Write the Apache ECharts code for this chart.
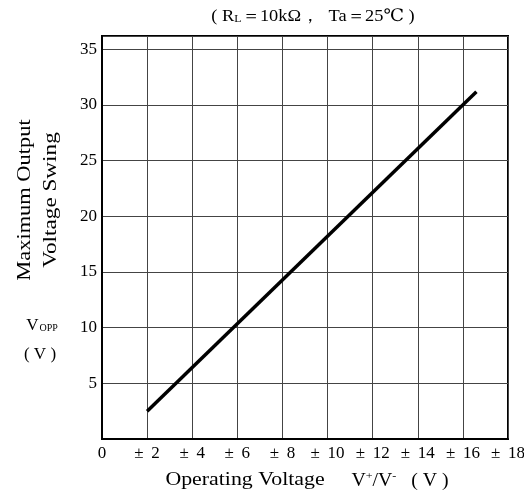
<!DOCTYPE html>
<html>
<head>
<meta charset="utf-8">
<script src="https://cdn.jsdelivr.net/npm/echarts@6/dist/echarts.min.js"></script>
<style>html,body{margin:0;padding:0;background:#fff;}#c{width:524px;height:493px;}</style>
</head>
<body>
<div id="c"></div>
<script>
const xTicks = [0, 2, 4, 6, 8, 10, 12, 14, 16, 18];
const yTicks = [5, 10, 15, 20, 25, 30, 35];
const supplyV = [2, 16.6];
const swingV = [2.5, 31.2];

const FONT = '"Liberation Serif", "DejaVu Serif", serif';
const chart = echarts.init(document.getElementById('c'));
chart.setOption({
  animation: false,
  backgroundColor: '#fff',
  textStyle: { fontFamily: FONT },
  grid: { left: 102, right: 16, top: 36, bottom: 54, containLabel: false, outerBoundsMode: 'none', show: true, borderColor: '#000', borderWidth: 2, backgroundColor: 'transparent' },
  xAxis: {
    type: 'value', min: 0, max: 18, interval: 2,
    axisLine: { show: true, lineStyle: { color: '#000', width: 2 } },
    axisTick: { show: false },
    splitLine: { show: true, lineStyle: { color: '#444', width: 1 } },
    axisLabel: {
      color: '#000', fontFamily: FONT, fontSize: 17, margin: 6,
      customValues: xTicks,
      formatter: v => v === 0 ? '0' : '± \u2009' + v
    }
  },
  yAxis: {
    type: 'value', min: 0, max: 36.2, interval: 5,
    axisLine: { show: true, lineStyle: { color: '#000', width: 2 } },
    axisTick: { show: false },
    splitLine: { show: true, lineStyle: { color: '#444', width: 1 } },
    axisLabel: {
      color: '#000', fontFamily: FONT, fontSize: 17, margin: 5,
      customValues: yTicks
    }
  },
  graphic: [
    {
      type: 'text', x: 313, y: 17, scaleX: 1.08,
      style: {
        text: '{a|( R}{s|L}{a|＝10kΩ，  Ta＝25℃ )}',
        align: 'center', verticalAlign: 'middle',
        rich: {
          a: { fontSize: 17, fill: '#000', fontFamily: FONT },
          s: { fontSize: 11, fill: '#000', fontFamily: FONT, padding: [5, 0, 0, 0] }
        }
      }
    },
    {
      type: 'text', x: 25, y: 200, rotation: Math.PI / 2, scaleX: 1.18,
      style: { text: 'Maximum Output', fontSize: 19, fill: '#000', fontFamily: FONT, align: 'center', verticalAlign: 'middle' }
    },
    {
      type: 'text', x: 51, y: 200, rotation: Math.PI / 2, scaleX: 1.22,
      style: { text: 'Voltage Swing', fontSize: 19, fill: '#000', fontFamily: FONT, align: 'center', verticalAlign: 'middle' }
    },
    {
      type: 'text', x: 42, y: 326,
      style: {
        text: '{a|V}{s|OPP}', align: 'center', verticalAlign: 'middle',
        rich: {
          a: { fontSize: 17, fill: '#000', fontFamily: FONT },
          s: { fontSize: 10, fill: '#000', fontFamily: FONT, padding: [5, 0, 0, 1] }
        }
      }
    },
    {
      type: 'text', x: 40, y: 355,
      style: { text: '( V )', fontSize: 17, fill: '#000', fontFamily: FONT, align: 'center', verticalAlign: 'middle' }
    },
    {
      type: 'text', x: 245, y: 480, scaleX: 1.15,
      style: { text: 'Operating Voltage', fontSize: 19, fill: '#000', fontFamily: FONT, align: 'center', verticalAlign: 'middle' }
    },
    {
      type: 'text', x: 400, y: 481, scaleX: 1.1,
      style: {
        text: '{a|V}{s|+}{a|/V}{s|-}{a|   ( V )}', align: 'center', verticalAlign: 'middle',
        rich: {
          a: { fontSize: 18, fill: '#000', fontFamily: FONT },
          s: { fontSize: 11, fill: '#000', fontFamily: FONT, padding: [0, 0, 9, 0] }
        }
      }
    }
  ],
  series: [{
    type: 'line',
    data: supplyV.map((x, i) => [x, swingV[i]]),
    showSymbol: false, symbol: 'none',
    lineStyle: { color: '#000', width: 3.5 }
  }]
});
</script>
</body>
</html>
